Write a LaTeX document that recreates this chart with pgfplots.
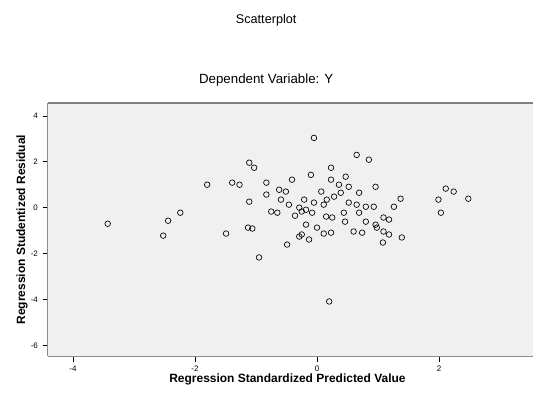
\documentclass[border=0pt]{standalone}
\usepackage{pgfplots}
\pgfplotsset{compat=1.18}
\usepackage{fontspec}
\setmainfont{Liberation Sans}
\definecolor{plotbg}{RGB}{240,240,240}
\definecolor{frame}{RGB}{140,140,140}
\begin{document}
\begin{tikzpicture}
\path (0,0) rectangle (400.5pt,298.5pt);
\begin{axis}[
  anchor=south west, at={(36pt,30.75pt)},
  width=364.5pt, height=190.5pt, scale only axis,
  xmin=-4.41, xmax=3.54, ymin=-6.48, ymax=4.57,
  axis x line*=bottom, axis y line*=left,
  axis line style={frame, line width=0.8pt},
  axis background/.style={fill=plotbg},
  xtick={-4,-2,0,2}, ytick={-6,-4,-2,0,2,4},
  tick align=outside, tick style={black, line width=0.5pt},
  major tick length=4pt,
  ticklabel style={font=\fontsize{6}{7}\selectfont},
  /pgf/number format/assume math mode=true,
  clip=false,
]
\addplot[only marks, mark=o, mark size=2.1pt, mark options={black, line width=0.5pt}] coordinates {
(-3.43,-0.70) (-2.52,-1.22) (-2.44,-0.57) (-2.24,-0.22) (-1.80,1.00)
(-1.49,-1.13) (-1.39,1.09) (-1.27,1.00) (-1.11,1.96) (-1.03,1.74)
(-0.83,1.09) (-1.11,0.26) (-0.83,0.57) (-0.62,0.78) (-0.51,0.70)
(-0.41,1.22) (-0.75,-0.17) (-0.65,-0.22) (-0.59,0.35) (-0.46,0.13)
(-0.29,0.00) (-0.18,-0.09) (-0.21,0.35) (-1.13,-0.87) (-1.06,-0.91)
(-0.49,-1.61) (-0.95,-2.17) (-0.25,-1.17) (-0.05,3.04) (0.65,2.30)
(0.85,2.09) (-0.10,1.43) (0.23,1.74) (0.47,1.35) (0.23,1.22)
(0.36,1.00) (0.52,0.91) (0.69,0.65) (0.07,0.70) (0.28,0.48)
(0.96,0.91) (-0.05,0.22) (0.11,0.13) (0.16,0.35) (0.52,0.22)
(0.65,0.13) (0.80,0.04) (0.93,0.04) (-0.25,-0.17) (-0.08,-0.22)
(0.15,-0.39) (0.25,-0.43) (0.44,-0.22) (0.80,-0.61) (0.96,-0.74)
(-0.18,-0.74) (0.23,-1.09) (0.60,-1.04) (0.74,-1.09) (-0.13,-1.39)
(1.37,0.39) (1.26,0.04) (1.09,-0.43) (1.18,-0.52) (0.98,-0.87)
(1.09,-1.04) (1.18,-1.17) (1.39,-1.30) (1.08,-1.52) (2.11,0.83)
(2.24,0.70) (1.99,0.35) (2.48,0.39) (2.03,-0.22) (0.20,-4.09)
(-0.29,-1.26) (0.11,-1.13) (-0.36,-0.35) (0.39,0.65) (0.00,-0.87)
(0.46,-0.61) (0.69,-0.22)
};
\draw[gray, line width=1.5pt] (rel axis cs:0,1) -- (rel axis cs:1,1);
\end{axis}
\node[font=\fontsize{9.5}{11}\selectfont] at (200pt,283.5pt) {Scatterplot};
\node[font=\fontsize{10}{12}\selectfont] at (200pt,238.5pt) {Dependent Variable: Y};
\node[font=\bfseries\fontsize{9}{11}\selectfont] at (216pt,13.5pt) {Regression Standardized Predicted Value};
\node[font=\bfseries\fontsize{9}{11}\selectfont, rotate=90] at (16.5pt,126pt) {Regression Studentized Residual};
\end{tikzpicture}
\end{document}
